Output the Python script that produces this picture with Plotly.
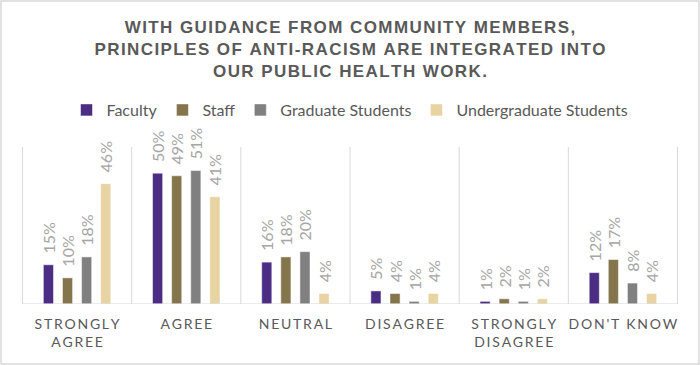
import plotly.graph_objects as go

categories = ["STRONGLY AGREE", "AGREE", "NEUTRAL", "DISAGREE", "STRONGLY DISAGREE", "DON'T KNOW"]
tick_labels = ["STRONGLY<br>AGREE", "AGREE", "NEUTRAL", "DISAGREE", "STRONGLY<br>DISAGREE", "DON'T KNOW"]
faculty = [15, 50, 16, 5, 1, 12]
staff = [10, 49, 18, 4, 2, 17]
grad = [18, 51, 20, 1, 1, 8]
undergrad = [46, 41, 4, 4, 2, 4]

series = [
    ("Faculty", faculty, "#4b2e83"),
    ("Staff", staff, "#85754d"),
    ("Graduate Students", grad, "#808080"),
    ("Undergraduate Students", undergrad, "#e8d3a2"),
]

SP = "\u2009"
SP_T = "\u200a"


def spaced(s, sp=SP):
    return "<br>".join(sp.join(list(part)) for part in s.split("<br>"))


fig = go.Figure()
for name, vals, color in series:
    fig.add_trace(go.Bar(
        name=name, x=categories, y=vals,
        marker=dict(color=color, line=dict(color="white", width=0.5)),
        text=[f"\u00a0\u00a0{v}%" for v in vals], textposition="outside", textangle=-90,
        textfont=dict(family="Lato, Open Sans, sans-serif", size=16, color="#a6a6a6"),
        constraintext="none", cliponaxis=False,
    ))

shapes = []
for i in range(len(categories) + 1):
    shapes.append(dict(type="line", xref="x", yref="paper", x0=i - 0.5, x1=i - 0.5,
                       y0=0, y1=1, line=dict(color="#d9d9d9", width=1), layer="below"))
shapes.append(dict(type="line", xref="paper", yref="y", x0=0, x1=1, y0=0, y1=0,
                   line=dict(color="#d9d9d9", width=1)))
W, H, L, R, T, B = 700, 365, 22, 22, 147, 61
pw, ph = W - L - R, H - T - B
shapes.append(dict(type="rect", xref="paper", yref="paper",
                   x0=(-L + 1) / pw, x1=(pw + R - 1) / pw,
                   y0=(-B + 1) / ph, y1=(ph + T - 1) / ph,
                   line=dict(color="#d9d9d9", width=1.5)))

title = "<br>".join(spaced(l, SP_T) for l in [
    "WITH GUIDANCE FROM COMMUNITY MEMBERS,",
    "PRINCIPLES OF ANTI-RACISM ARE INTEGRATED INTO",
    "OUR PUBLIC HEALTH WORK.",
])

fig.update_layout(
    width=W, height=H,
    margin=dict(l=L, r=R, t=T, b=B),
    paper_bgcolor="white", plot_bgcolor="white",
    barmode="group", bargap=0.3, bargroupgap=0.47,
    title=dict(text="<b>" + title + "</b>", x=0.5, xanchor="center", y=1 - 33 / H, yanchor="top",
               font=dict(family="Liberation Sans, Arial, sans-serif", size=17, color="#595959")),
    legend=dict(orientation="h", x=0.5, xanchor="center", y=1 + 37 / ph, yanchor="middle",
                font=dict(family="Lato, Open Sans, sans-serif", size=16, color="#595959"),
                itemwidth=30, traceorder="normal"),
    xaxis=dict(tickmode="array", tickvals=categories, ticktext=[spaced(t) for t in tick_labels],
               tickfont=dict(family="Lato, Open Sans, sans-serif", size=14, color="#595959"),
               showgrid=False, zeroline=False, showline=False, ticks="", ticklabelstandoff=10),
    yaxis=dict(range=[0, 60], visible=False, showgrid=False, zeroline=False),
    shapes=shapes,
    showlegend=True,
)

fig.write_html("out.html", config={"displayModeBar": False},
               post_script="document.body.style.margin='0';document.body.style.overflow='hidden';")
